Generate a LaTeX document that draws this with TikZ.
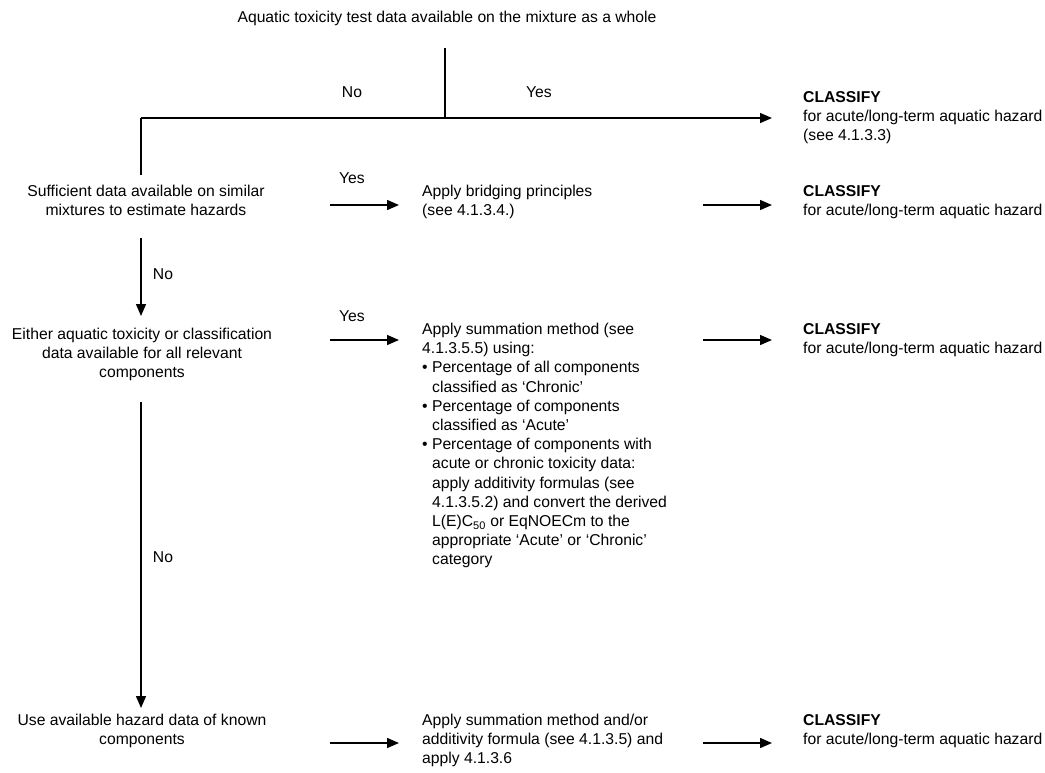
\documentclass[tikz,border=0pt]{standalone}
\usepackage{fontspec}
\setmainfont{Liberation Sans}
\usetikzlibrary{arrows.meta}
\begin{document}
\begin{tikzpicture}[x=1pt,y=-1pt,
  txt/.style={inner sep=0pt,font=\fontsize{15.7}{19.2}\selectfont},
  lft/.style={txt,anchor=north west,align=left},
  ctr/.style={txt,anchor=north,align=center},
  lbl/.style={txt,anchor=center},
  ln/.style={line width=1.4pt},
  arr/.style={ln,-{Triangle[length=12pt,width=10pt]}}]
\useasboundingbox (0,0) rectangle (1045,772);
% nodes
\node[ctr] (top) at (447,11) {Aquatic toxicity test data available on the mixture as a whole};
\node[lft] (cls1) at (803,91) {\textbf{CLASSIFY}\\for acute/long-term aquatic hazard\\(see 4.1.3.3)};
\node[ctr] (suff) at (146,185) {Sufficient data available on similar\\mixtures to estimate hazards};
\node[lft] (bridge) at (422,185) {Apply bridging principles\\(see 4.1.3.4.)};
\node[lft] (cls2) at (803,185) {\textbf{CLASSIFY}\\for acute/long-term aquatic hazard};
\node[ctr] (either) at (142,328) {Either aquatic toxicity or classification\\data available for all relevant\\components};
\node[lft] (summ) at (422,323) {Apply summation method (see\\4.1.3.5.5) using:\\%
• Percentage of all components\\\hspace*{10pt}classified as ‘Chronic’\\%
• Percentage of components\\\hspace*{10pt}classified as ‘Acute’\\%
• Percentage of components with\\\hspace*{10pt}acute or chronic toxicity data:\\%
\hspace*{10pt}apply additivity formulas (see\\\hspace*{10pt}4.1.3.5.2) and convert the derived\\%
\hspace*{10pt}L(E)C\textsubscript{50} or EqNOECm to the\\\hspace*{10pt}appropriate ‘Acute’ or ‘Chronic’\\%
\hspace*{10pt}category};
\node[lft] (cls3) at (803,323) {\textbf{CLASSIFY}\\for acute/long-term aquatic hazard};
\node[ctr] (use) at (142,714) {Use available hazard data of known\\components};
\node[lft] (summ2) at (422,714) {Apply summation method and/or\\additivity formula (see 4.1.3.5) and\\apply 4.1.3.6};
\node[lft] (cls4) at (803,714) {\textbf{CLASSIFY}\\for acute/long-term aquatic hazard};
% labels
\node[lbl] (no1) at (352,92) {No};
\node[lbl] (yes1) at (539,92) {Yes};
\node[lbl] (yes2) at (352,178) {Yes};
\node[lbl] (no2) at (163,274) {No};
\node[lbl] (yes3) at (352,316) {Yes};
\node[lbl] (no3) at (163,557) {No};
% connector coordinates
\coordinate (t0) at (445,48);
\coordinate (j) at (445,118);
\coordinate (c) at (141,118);
\coordinate (e1) at (772,118);
\coordinate (s0) at (141,175);
\coordinate (a1) at (330,205); \coordinate (b1) at (399,205);
\coordinate (a2) at (703,205); \coordinate (b2) at (772,205);
\coordinate (v1) at (141,238); \coordinate (w1) at (141,316);
\coordinate (a3) at (330,340); \coordinate (b3) at (399,340);
\coordinate (a4) at (703,340); \coordinate (b4) at (772,340);
\coordinate (v2) at (141,402); \coordinate (w2) at (141,708);
\coordinate (a5) at (330,743); \coordinate (b5) at (399,743);
\coordinate (a6) at (703,743); \coordinate (b6) at (772,743);
% connectors
\draw[ln] (t0) -- (j);
\draw[arr] (c) -- (e1);
\draw[ln] (c) -- (s0);
\draw[arr] (a1) -- (b1);
\draw[arr] (a2) -- (b2);
\draw[arr] (v1) -- (w1);
\draw[arr] (a3) -- (b3);
\draw[arr] (a4) -- (b4);
\draw[arr] (v2) -- (w2);
\draw[arr] (a5) -- (b5);
\draw[arr] (a6) -- (b6);
\end{tikzpicture}
\end{document}
